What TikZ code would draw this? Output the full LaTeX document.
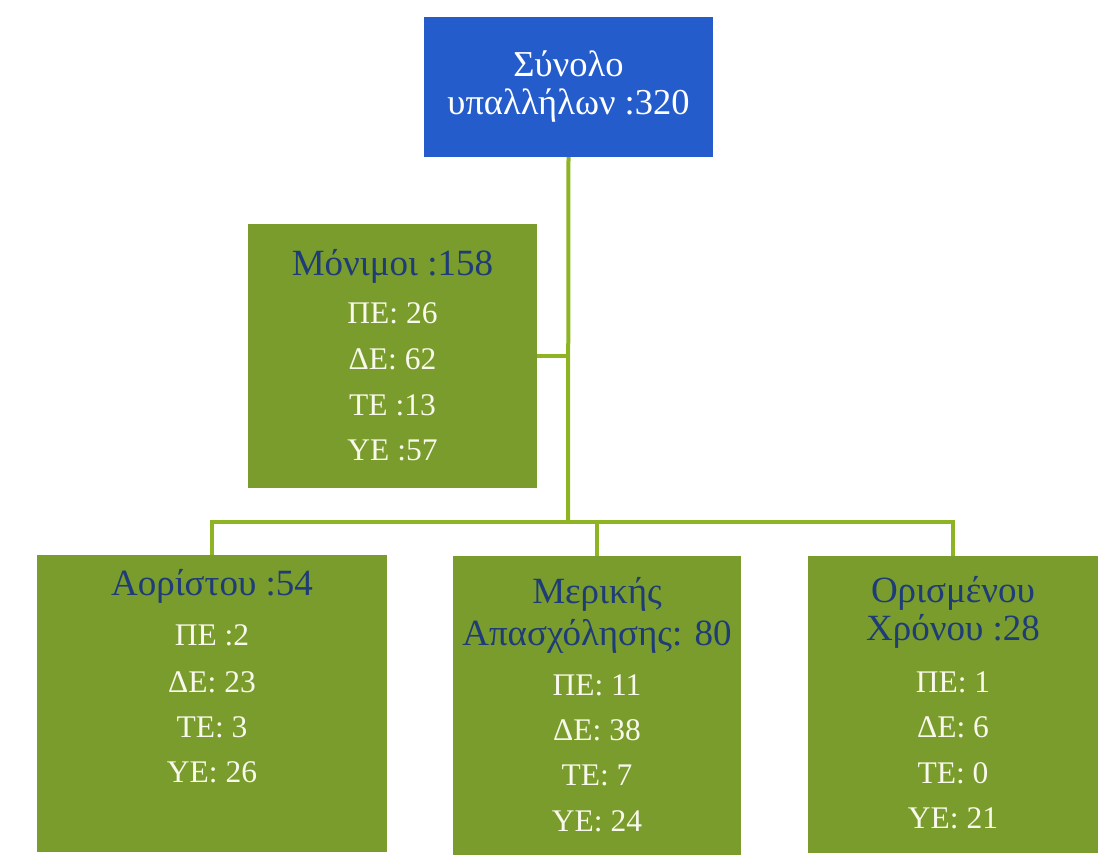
\documentclass[tikz,border=0pt]{standalone}
\usepackage{fontspec}
\setmainfont{Liberation Serif}
\definecolor{topblue}{RGB}{36,92,204}
\definecolor{boxgreen}{RGB}{122,156,44}
\definecolor{linegreen}{RGB}{142,180,36}
\definecolor{titleblue}{RGB}{30,60,120}
\definecolor{valwhite}{RGB}{248,248,236}
\begin{document}
\begin{tikzpicture}[x=1pt,y=-1pt,
  topbox/.style={fill=topblue, draw=none, inner sep=0pt},
  greenbox/.style={fill=boxgreen, draw=none, inner sep=0pt},
  conn/.style={draw=linegreen, line width=4pt},
  ttl/.style={anchor=base, text=titleblue, font=\fontsize{37}{44}\selectfont, inner sep=0pt},
  val/.style={anchor=base, text=valwhite, font=\fontsize{31.5}{38}\selectfont, inner sep=0pt},
  toptxt/.style={anchor=base, text=white, font=\fontsize{36.5}{44}\selectfont, inner sep=0pt}]
\useasboundingbox (0,0) rectangle (1112,860);
% boxes
\node[topbox, minimum width=289pt, minimum height=140pt] (total) at (568.5,87) {};
\node[greenbox, minimum width=289pt, minimum height=264pt] (perm) at (392.5,356) {};
\node[greenbox, minimum width=350pt, minimum height=297pt] (aor) at (212,703.5) {};
\node[greenbox, minimum width=288pt, minimum height=299pt] (mer) at (597,705.5) {};
\node[greenbox, minimum width=290pt, minimum height=297pt] (ori) at (953,704.5) {};
% connectors
\coordinate (hub) at (568,522);
\draw[conn] (total.south) -- (hub);
\draw[conn] (perm.east) -- (perm.east -| hub);
\draw[conn] (hub) -| (aor.north);
\draw[conn] (hub) -| (mer.north);
\draw[conn] (hub) -| (ori.north);
% top text
\node[toptxt] (total-a) at (568.5,76) {Σύνολο};
\node[toptxt] (total-b) at (568.5,114) {υπαλλήλων :320};
% permanent
\node[ttl] (perm-t) at (392.5,275) {Μόνιμοι :158};
\node[val] (perm-1) at (392.5,323) {ΠΕ: 26};
\node[val] (perm-2) at (392.5,369) {ΔΕ: 62};
\node[val] (perm-3) at (392.5,415) {ΤΕ :13};
\node[val] (perm-4) at (392.5,460) {ΥΕ :57};
% aoristou
\node[ttl] (aor-t) at (212,595) {Αορίστου :54};
\node[val] (aor-1) at (212,645) {ΠΕ :2};
\node[val] (aor-2) at (212,692) {ΔΕ: 23};
\node[val] (aor-3) at (212,737) {ΤΕ: 3};
\node[val] (aor-4) at (212,782) {ΥΕ: 26};
% merikis
\node[ttl] (mer-t) at (597,603) {Μερικής};
\node[ttl] (mer-u) at (597,645) {Απασχόλησης: 80};
\node[val] (mer-1) at (597,695) {ΠΕ: 11};
\node[val] (mer-2) at (597,740) {ΔΕ: 38};
\node[val] (mer-3) at (597,785) {ΤΕ: 7};
\node[val] (mer-4) at (597,831) {ΥΕ: 24};
% orismenou
\node[ttl] (ori-t) at (953,602) {Ορισμένου};
\node[ttl] (ori-u) at (953,640) {Χρόνου :28};
\node[val] (ori-1) at (953,692) {ΠΕ: 1};
\node[val] (ori-2) at (953,737) {ΔΕ: 6};
\node[val] (ori-3) at (953,783) {ΤΕ: 0};
\node[val] (ori-4) at (953,828) {ΥΕ: 21};
\end{tikzpicture}
\end{document}
